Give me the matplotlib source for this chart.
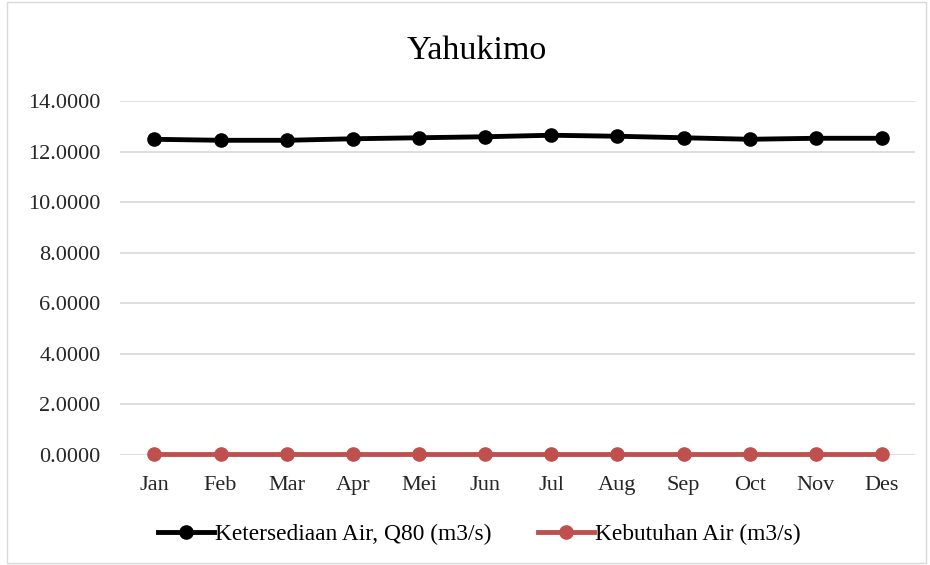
import numpy as np
import matplotlib.pyplot as plt
from matplotlib.ticker import FormatStrFormatter
from matplotlib.patches import Rectangle

months = ['Jan', 'Feb', 'Mar', 'Apr', 'Mei', 'Jun', 'Jul', 'Aug', 'Sep', 'Oct', 'Nov', 'Des']
q80 = [12.49, 12.45, 12.45, 12.51, 12.55, 12.59, 12.65, 12.61, 12.55, 12.49, 12.53, 12.53]
kebutuhan = [0.04, 0.04, 0.04, 0.04, 0.04, 0.04, 0.04, 0.04, 0.04, 0.04, 0.04, 0.04]
yticks = [0, 2, 4, 6, 8, 10, 12, 14]

plt.rcParams['font.family'] = ['Liberation Serif', 'DejaVu Serif']

fig = plt.figure(figsize=(9.3, 5.65), dpi=100)
ax = fig.add_axes([0.129, 0.195, 0.855, 0.626])

x = np.arange(len(months))
ax.plot(x, q80, color='black', lw=3.5, marker='o', ms=9.5,
        label='Ketersediaan Air, Q80 (m3/s)', zorder=3, clip_on=False)
ax.plot(x, kebutuhan, color='#C0504D', lw=3.5, marker='o', ms=9.5,
        label='Kebutuhan Air (m3/s)', zorder=3, clip_on=False)

ax.set_xlim(-0.52, 11.5)
ax.set_ylim(0, 14)
ax.set_yticks(yticks)
ax.yaxis.set_major_formatter(FormatStrFormatter('%.4f'))
ax.set_xticks(x)
ax.set_xticklabels(months)
ax.tick_params(axis='both', length=0, labelsize=16, colors='#262626')
ax.tick_params(axis='x', pad=15.5)
ax.tick_params(axis='y', pad=14)
ax.grid(axis='y', color='#D9D9D9', lw=1.2)
for s in ax.spines.values():
    s.set_visible(False)

fig.text(0.513, 0.91, 'Yahukimo', ha='center', va='center', fontsize=24.5)

ax.legend(loc='center', bbox_to_anchor=(0.452, -0.225), ncol=2, frameon=False,
          fontsize=16.8, handlelength=2.4, handletextpad=0.05, columnspacing=2.0)

fig.add_artist(Rectangle((0.008, 0.004), 0.988, 0.992, transform=fig.transFigure,
                         fill=False, edgecolor='#D9D9D9', lw=1))

plt.savefig('out.png', dpi=100)
